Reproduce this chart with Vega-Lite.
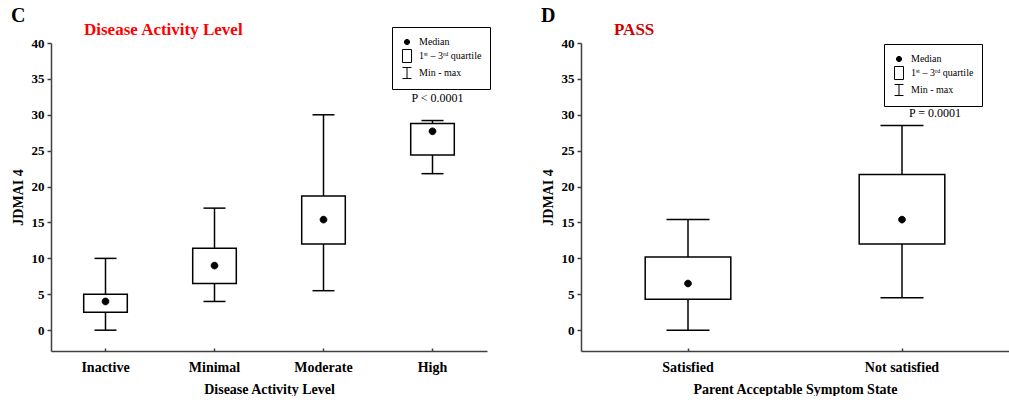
{
  "$schema": "https://vega.github.io/schema/vega-lite/v6.json",
  "padding": {"left": 11, "top": 5, "right": 0, "bottom": 0},
  "background": "white",
  "config": {
    "font": "Liberation Serif",
    "view": {"stroke": null},
    "axis": {
      "domainColor": "#404040", "domainWidth": 1.5, "tickColor": "#404040", "tickWidth": 1.5,
      "labelFont": "Liberation Serif", "labelFontWeight": "bold", "labelColor": "black",
      "titleFont": "Liberation Serif", "titleFontWeight": "bold", "titleColor": "black", "grid": false
    },
    "axisY": {"labelFontSize": 13, "titleFontSize": 14, "tickSize": 4, "labelPadding": 3, "titlePadding": 6},
    "axisX": {"labelFontSize": 14, "titleFontSize": 14, "tickSize": -3, "labelPadding": 12, "titlePadding": 8, "labelAngle": 0},
    "legend": {"symbolStrokeWidth": 1},
    "title": {"font": "Liberation Serif", "fontWeight": "bold"}
  },
  "hconcat": [
    {
      "title": {"text": "C", "anchor": "start", "frame": "bounds", "fontSize": 20, "color": "black", "offset": -5},
      "resolve": {"scale": {"shape": "independent", "fill": "independent", "stroke": "independent"}, "legend": {"shape": "independent", "fill": "independent", "stroke": "independent"}},
      "vconcat": [
        {
          "title": {"text": "Disease Activity Level", "anchor": "start", "frame": "group", "dx": 33, "fontSize": 17, "color": "#ff0000", "offset": -12},
          "width": 436,
          "height": 308,
          "data": {"values": [
            {"level": "Inactive", "min": 0, "q1": 2.5, "median": 4, "q3": 5, "max": 10},
            {"level": "Minimal", "min": 4, "q1": 6.5, "median": 9, "q3": 11.4, "max": 17},
            {"level": "Moderate", "min": 5.5, "q1": 12, "median": 15.4, "q3": 18.7, "max": 30},
            {"level": "High", "min": 21.8, "q1": 24.4, "median": 27.7, "q3": 28.8, "max": 29.2}
          ]},
          "encoding": {
            "x": {"field": "level", "type": "nominal", "sort": ["Inactive", "Minimal", "Moderate", "High"], "title": "Disease Activity Level",
                  "scale": {"type": "band", "paddingInner": 0, "paddingOuter": 0}}
          },
          "layer": [
            {"mark": {"type": "rule", "color": "black", "strokeWidth": 1.5},
             "encoding": {"y": {"field": "min", "type": "quantitative", "title": "JDMAI 4", "scale": {"domain": [-2.9, 40], "nice": false, "zero": false}, "axis": {"values": [0, 5, 10, 15, 20, 25, 30, 35, 40]}}, "y2": {"field": "max"}}},
            {"mark": {"type": "tick", "color": "black", "thickness": 1.5, "size": 22, "opacity": 1},
             "encoding": {"y": {"field": "min", "type": "quantitative", "title": "JDMAI 4", "axis": {"values": [0, 5, 10, 15, 20, 25, 30, 35, 40]}}}},
            {"mark": {"type": "tick", "color": "black", "thickness": 1.5, "size": 22, "opacity": 1},
             "encoding": {"y": {"field": "max", "type": "quantitative", "title": "JDMAI 4", "axis": {"values": [0, 5, 10, 15, 20, 25, 30, 35, 40]}}}},
            {"mark": {"type": "bar", "fill": "white", "stroke": "black", "strokeWidth": 1.5, "width": {"band": 0.4}},
             "encoding": {"y": {"field": "q1", "type": "quantitative", "title": "JDMAI 4", "axis": {"values": [0, 5, 10, 15, 20, 25, 30, 35, 40]}}, "y2": {"field": "q3"}}},
            {"mark": {"type": "point", "filled": true, "size": 280, "opacity": 1, "strokeWidth": 1},
             "encoding": {
               "y": {"field": "median", "type": "quantitative", "title": "JDMAI 4", "axis": {"values": [0, 5, 10, 15, 20, 25, 30, 35, 40]}},
               "shape": {"datum": "Median", "type": "nominal",
                 "scale": {"domain": ["Median", "1ˢᵗ – 3ʳᵈ quartile", "Min - max"], "range": ["M-0.4,0A0.4,0.4 0 1,0 0.4,0A0.4,0.4 0 1,0 -0.4,0Z", "M-0.69,-1H0.69V1H-0.69Z", "M-0.69,-0.85H0.69M0,-0.85V0.85M-0.69,0.85H0.69"]},
                 "legend": {"title": null, "orient": "none", "legendX": 341, "legendY": -16, "strokeColor": "black", "fillColor": "white", "padding": 8, "labelFont": "Liberation Serif", "labelFontSize": 10, "labelFontWeight": "normal", "labelColor": "black", "symbolSize": 169, "symbolStrokeWidth": 1, "rowPadding": 0, "labelOffset": 5}},
               "fill": {"datum": "Median", "type": "nominal",
                 "scale": {"domain": ["Median", "1ˢᵗ – 3ʳᵈ quartile", "Min - max"], "range": ["black", "white", "transparent"]},
                 "legend": {"title": null, "orient": "none", "legendX": 341, "legendY": -16, "strokeColor": "black", "fillColor": "white", "padding": 8, "labelFont": "Liberation Serif", "labelFontSize": 10, "labelFontWeight": "normal", "labelColor": "black", "symbolSize": 169, "symbolStrokeWidth": 1, "rowPadding": 0, "labelOffset": 5}},
               "stroke": {"datum": "Median", "type": "nominal",
                 "scale": {"domain": ["Median", "1ˢᵗ – 3ʳᵈ quartile", "Min - max"], "range": ["black", "black", "black"]},
                 "legend": {"title": null, "orient": "none", "legendX": 341, "legendY": -16, "strokeColor": "black", "fillColor": "white", "padding": 8, "labelFont": "Liberation Serif", "labelFontSize": 10, "labelFontWeight": "normal", "labelColor": "black", "symbolSize": 169, "symbolStrokeWidth": 1, "rowPadding": 0, "labelOffset": 5}}
             }},
            {"data": {"values": [{"level": "High", "p": 32.3, "label": "P < 0.0001"}]},
             "mark": {"type": "text", "font": "Liberation Serif", "fontSize": 12, "color": "black", "dx": 5},
             "encoding": {"y": {"field": "p", "type": "quantitative", "title": "JDMAI 4", "axis": {"values": [0, 5, 10, 15, 20, 25, 30, 35, 40]}}, "text": {"field": "label"}}}
          ]
        }
      ]
    },
    {
      "title": {"text": "D", "anchor": "start", "frame": "bounds", "fontSize": 20, "color": "black", "offset": -5},
      "resolve": {"scale": {"shape": "independent", "fill": "independent", "stroke": "independent"}, "legend": {"shape": "independent", "fill": "independent", "stroke": "independent"}},
      "vconcat": [
        {
          "title": {"text": "PASS", "anchor": "start", "frame": "group", "dx": 33, "fontSize": 17, "color": "#cc0000", "offset": -2},
          "width": 428,
          "height": 308,
          "data": {"values": [
            {"pass": "Satisfied", "min": 0, "q1": 4.3, "median": 6.5, "q3": 10.2, "max": 15.4},
            {"pass": "Not satisfied", "min": 4.5, "q1": 12.0, "median": 15.4, "q3": 21.7, "max": 28.5}
          ]},
          "encoding": {
            "x": {"field": "pass", "type": "nominal", "sort": ["Satisfied", "Not satisfied"], "title": "Parent Acceptable Symptom State",
                  "scale": {"type": "band", "paddingInner": 0, "paddingOuter": 0}}
          },
          "layer": [
            {"mark": {"type": "rule", "color": "black", "strokeWidth": 1.5},
             "encoding": {"y": {"field": "min", "type": "quantitative", "title": "JDMAI 4", "scale": {"domain": [-2.9, 40], "nice": false, "zero": false}, "axis": {"values": [0, 5, 10, 15, 20, 25, 30, 35, 40]}}, "y2": {"field": "max"}}},
            {"mark": {"type": "tick", "color": "black", "thickness": 1.5, "size": 43, "opacity": 1},
             "encoding": {"y": {"field": "min", "type": "quantitative", "title": "JDMAI 4", "axis": {"values": [0, 5, 10, 15, 20, 25, 30, 35, 40]}}}},
            {"mark": {"type": "tick", "color": "black", "thickness": 1.5, "size": 43, "opacity": 1},
             "encoding": {"y": {"field": "max", "type": "quantitative", "title": "JDMAI 4", "axis": {"values": [0, 5, 10, 15, 20, 25, 30, 35, 40]}}}},
            {"mark": {"type": "bar", "fill": "white", "stroke": "black", "strokeWidth": 1.5, "width": {"band": 0.4}},
             "encoding": {"y": {"field": "q1", "type": "quantitative", "title": "JDMAI 4", "axis": {"values": [0, 5, 10, 15, 20, 25, 30, 35, 40]}}, "y2": {"field": "q3"}}},
            {"mark": {"type": "point", "filled": true, "size": 280, "opacity": 1, "strokeWidth": 1},
             "encoding": {
               "y": {"field": "median", "type": "quantitative", "title": "JDMAI 4", "axis": {"values": [0, 5, 10, 15, 20, 25, 30, 35, 40]}},
               "shape": {"datum": "Median", "type": "nominal",
                 "scale": {"domain": ["Median", "1ˢᵗ – 3ʳᵈ quartile", "Min - max"], "range": ["M-0.4,0A0.4,0.4 0 1,0 0.4,0A0.4,0.4 0 1,0 -0.4,0Z", "M-0.69,-1H0.69V1H-0.69Z", "M-0.69,-0.85H0.69M0,-0.85V0.85M-0.69,0.85H0.69"]},
                 "legend": {"title": null, "orient": "none", "legendX": 303, "legendY": 1, "strokeColor": "black", "fillColor": "white", "padding": 8, "labelFont": "Liberation Serif", "labelFontSize": 10, "labelFontWeight": "normal", "labelColor": "black", "symbolSize": 169, "symbolStrokeWidth": 1, "rowPadding": 0, "labelOffset": 5}},
               "fill": {"datum": "Median", "type": "nominal",
                 "scale": {"domain": ["Median", "1ˢᵗ – 3ʳᵈ quartile", "Min - max"], "range": ["black", "white", "transparent"]},
                 "legend": {"title": null, "orient": "none", "legendX": 303, "legendY": 1, "strokeColor": "black", "fillColor": "white", "padding": 8, "labelFont": "Liberation Serif", "labelFontSize": 10, "labelFontWeight": "normal", "labelColor": "black", "symbolSize": 169, "symbolStrokeWidth": 1, "rowPadding": 0, "labelOffset": 5}},
               "stroke": {"datum": "Median", "type": "nominal",
                 "scale": {"domain": ["Median", "1ˢᵗ – 3ʳᵈ quartile", "Min - max"], "range": ["black", "black", "black"]},
                 "legend": {"title": null, "orient": "none", "legendX": 303, "legendY": 1, "strokeColor": "black", "fillColor": "white", "padding": 8, "labelFont": "Liberation Serif", "labelFontSize": 10, "labelFontWeight": "normal", "labelColor": "black", "symbolSize": 169, "symbolStrokeWidth": 1, "rowPadding": 0, "labelOffset": 5}}
             }},
            {"data": {"values": [{"pass": "Not satisfied", "p": 30.2, "label": "P = 0.0001"}]},
             "mark": {"type": "text", "font": "Liberation Serif", "fontSize": 12, "color": "black", "dx": 33},
             "encoding": {"y": {"field": "p", "type": "quantitative", "title": "JDMAI 4", "axis": {"values": [0, 5, 10, 15, 20, 25, 30, 35, 40]}}, "text": {"field": "label"}}}
          ]
        }
      ]
    }
  ],
  "spacing": 50,
  "resolve": {"scale": {"shape": "independent", "fill": "independent", "stroke": "independent"}, "legend": {"shape": "independent", "fill": "independent", "stroke": "independent"}}
}
